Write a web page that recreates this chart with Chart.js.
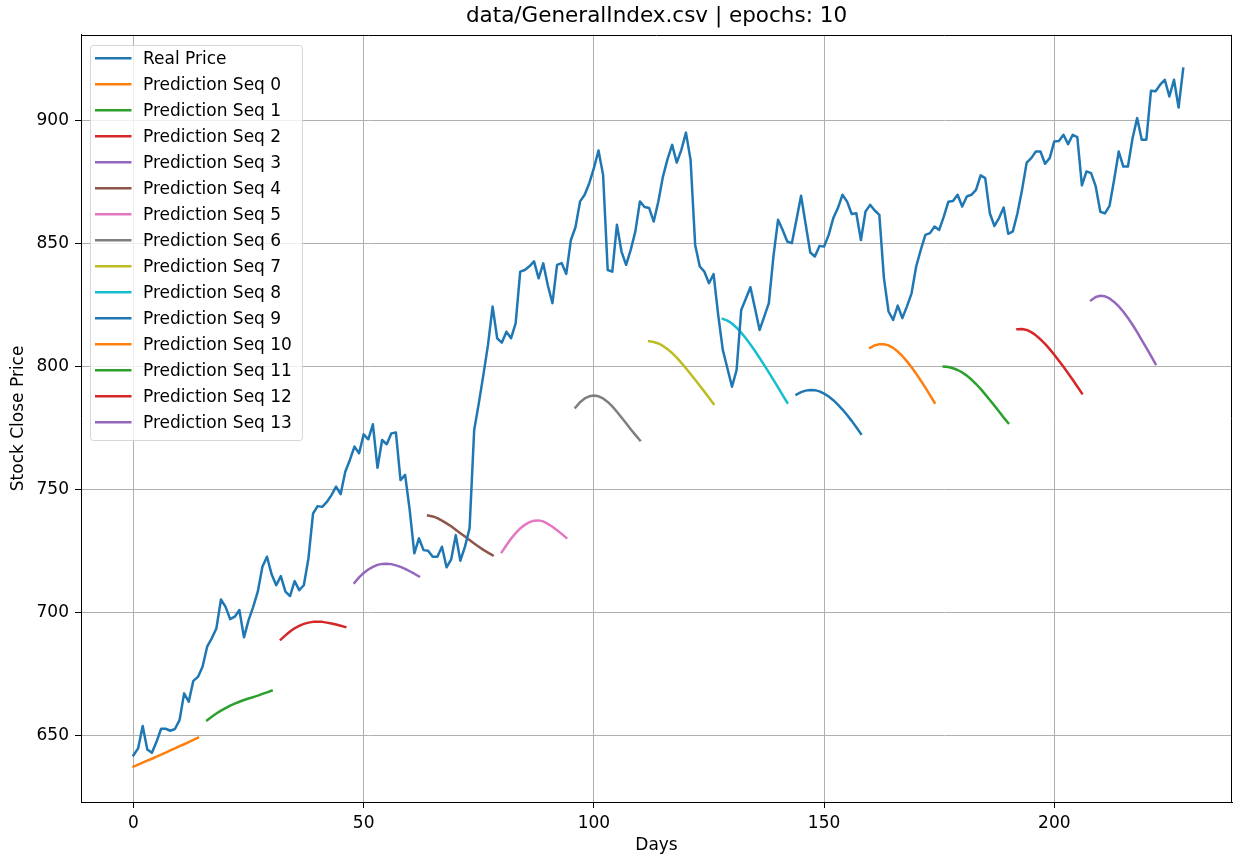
<!DOCTYPE html>
<html>
<head>
<meta charset="utf-8">
<script src="https://cdn.jsdelivr.net/npm/chart.js@4/dist/chart.umd.min.js"></script>
<style>
html, body { margin: 0; padding: 0; background: #ffffff; }
canvas { display: block; }
</style>
</head>
<body>
<canvas id="c" width="1233" height="858"></canvas>
<script>
// ---------- data ----------
const titleText = 'data/GeneralIndex.csv | epochs: 10';
const xLabel = 'Days';
const yLabel = 'Stock Close Price';
const xTicks = [0, 50, 100, 150, 200];
const yTicks = [650, 700, 750, 800, 850, 900];

const realPrice = [
  641.8, 644.6, 653.7, 644.2, 642.8, 647.3, 652.6, 652.6, 651.8, 652.5,
  656.1, 667.0, 663.6, 672.1, 673.7, 677.8, 686.0, 689.4, 693.4, 705.2,
  702.2, 697.2, 698.2, 700.9, 689.8, 696.8, 702.2, 708.4, 718.5, 722.6,
  715.5, 711.0, 714.7, 708.4, 706.6, 712.7, 709.0, 711.0, 721.9, 740.2,
  743.2, 742.9, 744.9, 747.7, 751.1, 748.1, 757.2, 762.0, 767.4, 764.7,
  772.4, 770.4, 776.5, 758.8, 770.1, 768.4, 772.8, 773.2, 753.8, 755.9,
  741.6, 724.0, 730.1, 725.3, 725.0, 722.6, 722.6, 726.7, 718.3, 721.5,
  731.4, 721.0, 726.7, 734.2, 774.2, 785.0, 796.6, 808.8, 824.4, 811.5,
  809.7, 814.2, 811.5, 817.6, 838.6, 839.3, 840.8, 842.8, 835.9, 842.0,
  833.0, 825.8, 841.4, 842.1, 837.7, 851.5, 856.7, 867.2, 869.9, 874.6,
  880.7, 887.9, 878.0, 839.3, 838.6, 857.7, 846.8, 841.4, 847.5, 854.9,
  867.2, 864.9, 864.5, 859.0, 867.2, 877.3, 884.4, 890.2, 883.0, 888.2,
  895.2, 884.1, 849.5, 840.7, 838.6, 833.9, 837.6, 821.0, 806.8, 799.3,
  791.8, 798.6, 823.0, 827.6, 832.3, 823.6, 814.9, 820.3, 825.8, 844.8,
  859.7, 855.6, 850.9, 850.2, 859.7, 869.5, 857.9, 846.4, 844.8, 849.1,
  848.8, 853.6, 860.4, 864.5, 869.9, 867.1, 862.1, 862.4, 851.5, 863.1,
  865.8, 863.5, 861.7, 836.0, 822.4, 819.0, 824.8, 819.7, 824.5, 829.8,
  840.7, 847.5, 853.6, 854.3, 857.0, 855.6, 861.0, 867.1, 867.4, 869.9,
  865.1, 869.2, 869.9, 871.9, 877.8, 876.7, 862.4, 857.2, 860.4, 864.7,
  854.0, 855.0, 862.4, 871.9, 883.0, 884.8, 887.5, 887.5, 882.5, 884.8,
  891.6, 891.8, 894.3, 890.5, 894.3, 893.4, 873.7, 879.4, 878.7, 873.3,
  863.0, 862.3, 865.4, 876.0, 887.5, 881.4, 881.4, 892.9, 901.1, 892.3,
  892.3, 912.2, 912.0, 914.7, 916.7, 909.9, 916.7, 905.4, 921.2
];

const predStarts = [0, 16, 32, 48, 64, 80, 96, 112, 128, 144, 160, 176, 192, 208];

const pred0  = [637.2, 638.0, 638.8, 639.6, 640.4, 641.3, 642.1, 642.9, 643.8, 644.6, 645.5, 646.3, 647.2, 648.1, 649.0];
const pred1  = [656.1, 657.5, 658.8, 660.0, 661.0, 662.0, 662.8, 663.6, 664.3, 664.9, 665.5, 666.1, 666.8, 667.4, 668.1];
const pred2  = [688.9, 690.6, 692.2, 693.5, 694.5, 695.3, 695.8, 696.1, 696.2, 696.1, 695.8, 695.4, 695.0, 694.5, 694.0];
const pred3  = [712.0, 714.2, 716.0, 717.4, 718.5, 719.3, 719.7, 719.8, 719.6, 719.1, 718.5, 717.7, 716.7, 715.7, 714.6];
const pred4  = [739.4, 739.0, 738.3, 737.3, 736.2, 735.0, 733.6, 732.2, 730.8, 729.4, 728.0, 726.7, 725.4, 724.3, 723.2];
const pred5  = [724.5, 727.3, 729.9, 732.2, 734.1, 735.6, 736.7, 737.3, 737.4, 737.0, 736.0, 734.8, 733.4, 731.9, 730.3];
const pred6  = [783.3, 785.5, 787.0, 787.9, 788.2, 787.9, 787.0, 785.6, 783.8, 781.6, 779.3, 776.9, 774.5, 772.2, 770.0];
const pred7  = [810.3, 810.0, 809.4, 808.4, 807.1, 805.5, 803.6, 801.5, 799.3, 797.0, 794.6, 792.2, 789.8, 787.3, 784.8];
const pred8  = [819.4, 818.7, 817.5, 815.8, 813.8, 811.5, 809.0, 806.3, 803.5, 800.6, 797.6, 794.6, 791.5, 788.4, 785.3];
const pred9  = [788.6, 789.6, 790.2, 790.5, 790.4, 789.9, 789.0, 787.8, 786.3, 784.5, 782.5, 780.3, 777.9, 775.3, 772.6];
const pred10 = [807.6, 808.6, 809.1, 809.1, 808.6, 807.6, 806.1, 804.3, 802.1, 799.7, 797.1, 794.3, 791.4, 788.4, 785.3];
const pred11 = [800.0, 799.8, 799.3, 798.6, 797.6, 796.3, 794.7, 792.9, 790.9, 788.7, 786.4, 784.1, 781.7, 779.3, 777.0];
const pred12 = [815.2, 815.3, 814.9, 814.0, 812.7, 811.1, 809.2, 807.1, 804.8, 802.4, 799.9, 797.3, 794.6, 791.9, 789.1];
const pred13 = [827.0, 828.3, 828.8, 828.6, 827.7, 826.3, 824.5, 822.3, 819.8, 817.0, 814.0, 810.8, 807.6, 804.3, 801.0];

const predLabels = [
  'Prediction Seq 0', 'Prediction Seq 1', 'Prediction Seq 2', 'Prediction Seq 3',
  'Prediction Seq 4', 'Prediction Seq 5', 'Prediction Seq 6', 'Prediction Seq 7',
  'Prediction Seq 8', 'Prediction Seq 9', 'Prediction Seq 10', 'Prediction Seq 11',
  'Prediction Seq 12', 'Prediction Seq 13'
];

// matplotlib tab10 cycle
const palette = ['#1f77b4', '#ff7f0e', '#2ca02c', '#d62728', '#9467bd',
                 '#8c564b', '#e377c2', '#7f7f7f', '#bcbd22', '#17becf'];

// ---------- build datasets ----------
const predictions = [pred0, pred1, pred2, pred3, pred4, pred5, pred6, pred7,
                     pred8, pred9, pred10, pred11, pred12, pred13];

const datasets = [{
  label: 'Real Price',
  data: realPrice.map((v, i) => ({ x: i, y: v })),
  borderColor: palette[0],
  backgroundColor: palette[0]
}];
predictions.forEach((seq, k) => {
  const col = palette[(k + 1) % palette.length];
  datasets.push({
    label: predLabels[k],
    data: seq.map((v, j) => ({ x: predStarts[k] + j, y: v })),
    borderColor: col,
    backgroundColor: col
  });
});

const FONT = "'DejaVu Sans', 'Liberation Sans', sans-serif";
const BASE = 17;
const baseFont = { family: FONT, size: BASE, weight: 'normal' };

// spines (top/right) + matplotlib-like legend
const mplDecor = {
  id: 'mplDecor',
  afterDatasetsDraw(chart) {
    const ctx = chart.ctx;
    const ca = chart.chartArea;
    ctx.save();
    ctx.strokeStyle = '#000';
    ctx.lineWidth = 1;
    ctx.beginPath();
    ctx.moveTo(ca.left, Math.round(ca.top) + 0.5);
    ctx.lineTo(ca.right, Math.round(ca.top) + 0.5);
    ctx.moveTo(Math.round(ca.right) - 0.5, ca.top);
    ctx.lineTo(Math.round(ca.right) - 0.5, ca.bottom);
    ctx.stroke();

    ctx.font = BASE + 'px ' + FONT;
    const ds = chart.data.datasets;
    let maxW = 0;
    ds.forEach(d => { maxW = Math.max(maxW, ctx.measureText(d.label).width); });
    const fx = Math.round(ca.left + 9);
    const fy = Math.round(ca.top + 10);
    const textX = fx + 53;
    const rowPitch = 26;
    const firstRow = fy + 13.3;
    const fw = (textX - fx) + maxW + 10;
    const fh = 13.3 + (ds.length - 1) * rowPitch + 17.7;
    ctx.beginPath();
    if (ctx.roundRect) ctx.roundRect(fx + 0.5, fy + 0.5, fw, fh, 3);
    else ctx.rect(fx + 0.5, fy + 0.5, fw, fh);
    ctx.fillStyle = 'rgba(255,255,255,0.8)';
    ctx.fill();
    ctx.strokeStyle = 'rgba(204,204,204,0.8)';
    ctx.lineWidth = 1;
    ctx.stroke();

    ds.forEach((d, i) => {
      const y = firstRow + i * rowPitch;
      ctx.strokeStyle = d.borderColor;
      ctx.lineWidth = 2.5;
      ctx.lineCap = 'butt';
      ctx.beginPath();
      ctx.moveTo(fx + 5, y);
      ctx.lineTo(fx + 41.5, y);
      ctx.stroke();
      ctx.fillStyle = '#000';
      ctx.textBaseline = 'middle';
      ctx.textAlign = 'left';
      ctx.fillText(d.label, textX, y + 1.5);
    });
    ctx.restore();
  }
};

new Chart(document.getElementById('c'), {
  type: 'line',
  data: { datasets },
  plugins: [mplDecor],
  options: {
    responsive: false,
    animation: false,
    devicePixelRatio: 1,
    layout: { padding: { left: 0, right: 1, top: 0, bottom: 0 } },
    elements: {
      point: { radius: 0, hoverRadius: 0 },
      line: { borderWidth: 2.5, tension: 0, fill: false,
              borderJoinStyle: 'round', borderCapStyle: 'square' }
    },
    plugins: {
      legend: { display: false },
      tooltip: { enabled: false },
      title: {
        display: true,
        text: titleText,
        color: '#000',
        fullSize: false,
        font: { family: FONT, size: 21.5, weight: 'normal' },
        padding: { top: 4, bottom: 5 }
      }
    },
    scales: {
      x: {
        type: 'linear',
        min: -11.4,
        max: 238.6,
        afterBuildTicks(s) { s.ticks = xTicks.map(v => ({ value: v })); },
        afterFit(s) { s.height = 56; },
        grid: { color: '#b0b0b0', lineWidth: 1, drawTicks: true, tickLength: 6, tickColor: '#000', tickWidth: 1 },
        border: { display: true, color: '#000', width: 1 },
        ticks: { color: '#000', font: baseFont, padding: 5, maxRotation: 0, autoSkip: false },
        title: { display: true, text: xLabel, color: '#000', font: baseFont, padding: { top: 0, bottom: 2 } }
      },
      y: {
        type: 'linear',
        min: 622.8,
        max: 935.0,
        afterBuildTicks(s) { s.ticks = yTicks.map(v => ({ value: v })); },
        afterFit(s) { s.width = 81; },
        grid: { color: '#b0b0b0', lineWidth: 1, drawTicks: true, tickLength: 6, tickColor: '#000', tickWidth: 1 },
        border: { display: true, color: '#000', width: 1 },
        ticks: { color: '#000', font: baseFont, padding: 6, autoSkip: false },
        title: { display: true, text: yLabel, color: '#000', font: baseFont, padding: { top: 8, bottom: 0 } }
      }
    }
  }
});
</script>
</body>
</html>
